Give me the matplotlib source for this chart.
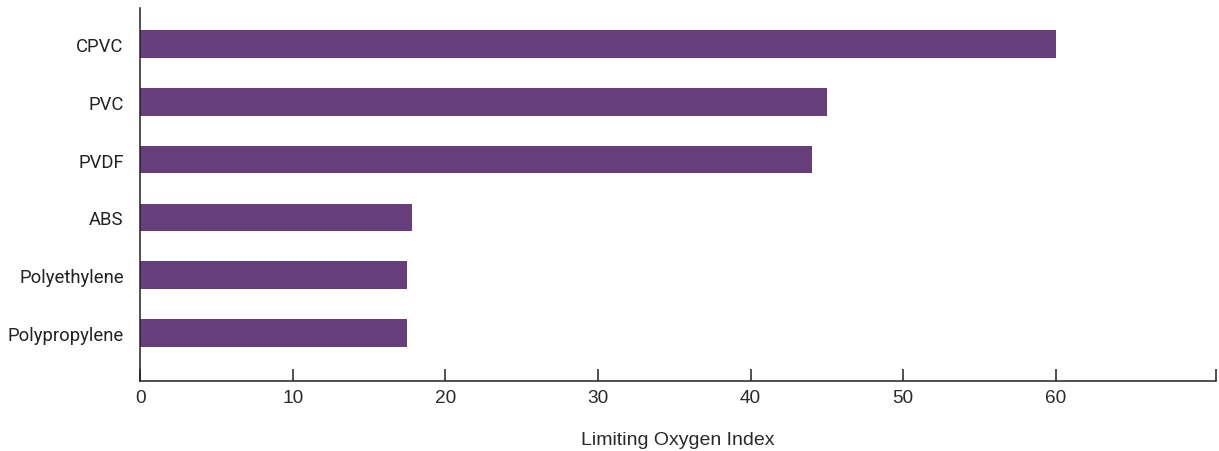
import matplotlib
matplotlib.use("Agg")
import matplotlib.pyplot as plt
from matplotlib.ticker import FixedLocator

materials = ["Polypropylene", "Polyethylene", "ABS", "PVDF", "PVC", "CPVC"]
loi = [17.5, 17.5, 17.8, 44, 45, 60]
xticks = [0, 10, 20, 30, 40, 50, 60]

bar_color = "#673e7c"
ink = "#222222"
x_max = 70.5

narrow = ["Roboto", "DejaVu Sans"]
plain = ["Liberation Sans", "DejaVu Sans"]

fig = plt.figure(figsize=(12.19, 4.52), dpi=100)
ax = fig.add_axes([140.3 / 1219, 70.5 / 452, (1216 - 140.3) / 1219, (381.5 - 9) / 452])

ax.barh(range(len(materials)), loi, height=0.48, color=bar_color)

ax.set_xlim(0, x_max)
ax.set_ylim(-0.82, len(materials) - 1 + 0.62)

for side in ("top", "right"):
    ax.spines[side].set_visible(False)
for side in ("left", "bottom"):
    ax.spines[side].set_color(ink)
    ax.spines[side].set_linewidth(1.1)

ax.set_xticks(xticks)
ax.set_xticklabels([str(t) for t in xticks], fontsize=13.7, color="#2a2a2a", family=plain)
ax.xaxis.set_minor_locator(FixedLocator([x_max]))
ax.tick_params(axis="x", which="both", direction="in", length=9, width=1.1,
               color=ink, pad=6)

ax.set_yticks(range(len(materials)))
ax.set_yticklabels(materials, fontsize=13.3, color=ink, family=narrow)
ax.tick_params(axis="y", length=0, pad=12)

ax.set_xlabel("Limiting Oxygen Index", fontsize=14, color="#2a2a2a",
              family=plain, labelpad=18)

fig.savefig("out.png", dpi=100)
